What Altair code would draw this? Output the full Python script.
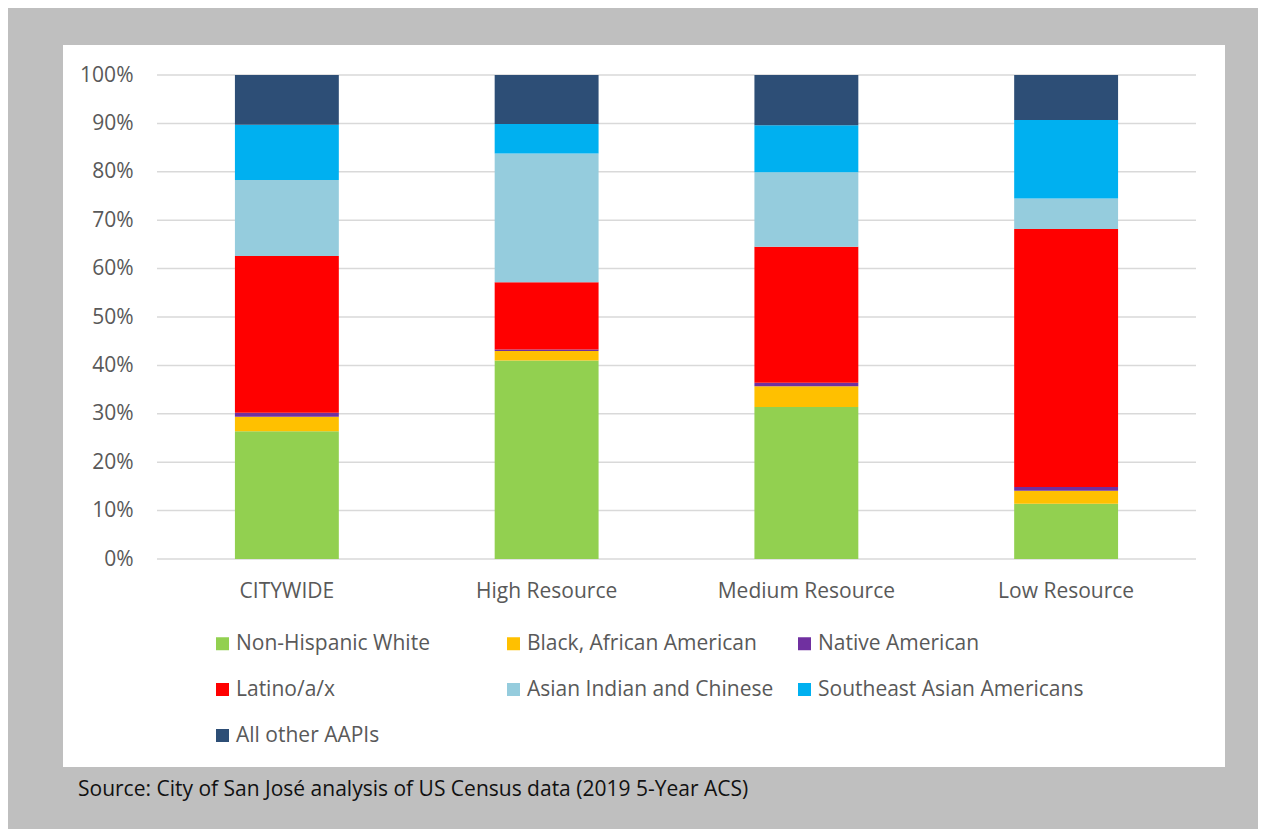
import altair as alt
import pandas as pd

areas = ["CITYWIDE", "High Resource", "Medium Resource", "Low Resource"]
groups = ["Non-Hispanic White", "Black, African American", "Native American",
          "Latino/a/x", "Asian Indian and Chinese", "Southeast Asian Americans",
          "All other AAPIs"]
colors = ["#92D050", "#FFC000", "#7030A0", "#FF0000", "#95CCDD", "#00B0F0", "#2D4E76"]

white_pct = [26.4, 41.0, 31.4, 11.4]
black_pct = [3.0, 2.0, 4.3, 2.7]
native_pct = [0.8, 0.3, 0.7, 0.8]
latino_pct = [32.4, 13.9, 28.1, 53.3]
asian_ic_pct = [15.7, 26.6, 15.4, 6.3]
se_asian_pct = [11.4, 6.1, 9.7, 16.2]
other_aapi_pct = [10.3, 10.1, 10.4, 9.3]

y_ticks = [i / 10 for i in range(11)]

series = [white_pct, black_pct, native_pct, latino_pct, asian_ic_pct, se_asian_pct, other_aapi_pct]
rows = []
for gi, (g, vals) in enumerate(zip(groups, series)):
    for a, v in zip(areas, vals):
        rows.append({"area": a, "group": g, "value": v, "idx": gi})
df = pd.DataFrame(rows)

FONT = "Open Sans"
FS = 21
W, H = 1039, 484

panel = alt.Chart(pd.DataFrame({"k": [0]})).mark_rect(color="white").encode(
    x=alt.value(-94), x2=alt.value(1068), y=alt.value(-30), y2=alt.value(692)
)

grid = alt.Chart(pd.DataFrame({"v": y_ticks})).mark_rule(color="#D9D9D9", strokeWidth=1.5).encode(
    y=alt.Y("v:Q", title=None), x=alt.value(0), x2=alt.value(W)
)

bars = alt.Chart(df).mark_bar().encode(
    x=alt.X("area:N", sort=areas, title=None,
            scale=alt.Scale(paddingInner=0.6, paddingOuter=0.3),
            axis=alt.Axis(labelAngle=0, domain=False, ticks=False, labelPadding=21,
                          labelFontSize=FS, labelColor="#595959", labelFont=FONT,
                          zindex=1)),
    y=alt.Y("value:Q", stack="normalize", title=None,
            scale=alt.Scale(domain=[0, 1]),
            axis=alt.Axis(format="%", values=y_ticks, domain=False, grid=False,
                          ticks=False, labelPadding=24, labelFontSize=FS,
                          labelColor="#595959", labelFont=FONT, zindex=1)),
    color=alt.Color("group:N", title=None,
                    scale=alt.Scale(domain=groups, range=colors),
                    legend=alt.Legend(orient="none", direction="horizontal",
                                      legendX=55, legendY=558, columns=3,
                                      gridAlign="all", columnPadding=1, rowPadding=24,
                                      symbolType="square", symbolSize=169,
                                      symbolStrokeWidth=0, labelOffset=3,
                                      labelFontSize=FS, labelColor="#595959",
                                      labelFont=FONT, labelLimit=400)),
    order=alt.Order("idx:Q", sort="ascending"),
)

source = alt.Chart(pd.DataFrame({"t": ["Source: City of San José analysis of US Census data (2019 5-Year ACS)"]})).mark_text(
    align="left", baseline="middle", fontSize=FS, font=FONT, color="#111111"
).encode(x=alt.value(-79), y=alt.value(715), text="t:N")

chart = alt.layer(panel, grid, bars, source).properties(
    width=W, height=H, background="#BFBFBF",
    autosize=alt.AutoSizeParams(type="none"),
    padding={"left": 149, "top": 67, "right": 62, "bottom": 270},
).configure_view(stroke=None)

chart.save("out.html", embed_options={"renderer": "svg", "actions": False})
